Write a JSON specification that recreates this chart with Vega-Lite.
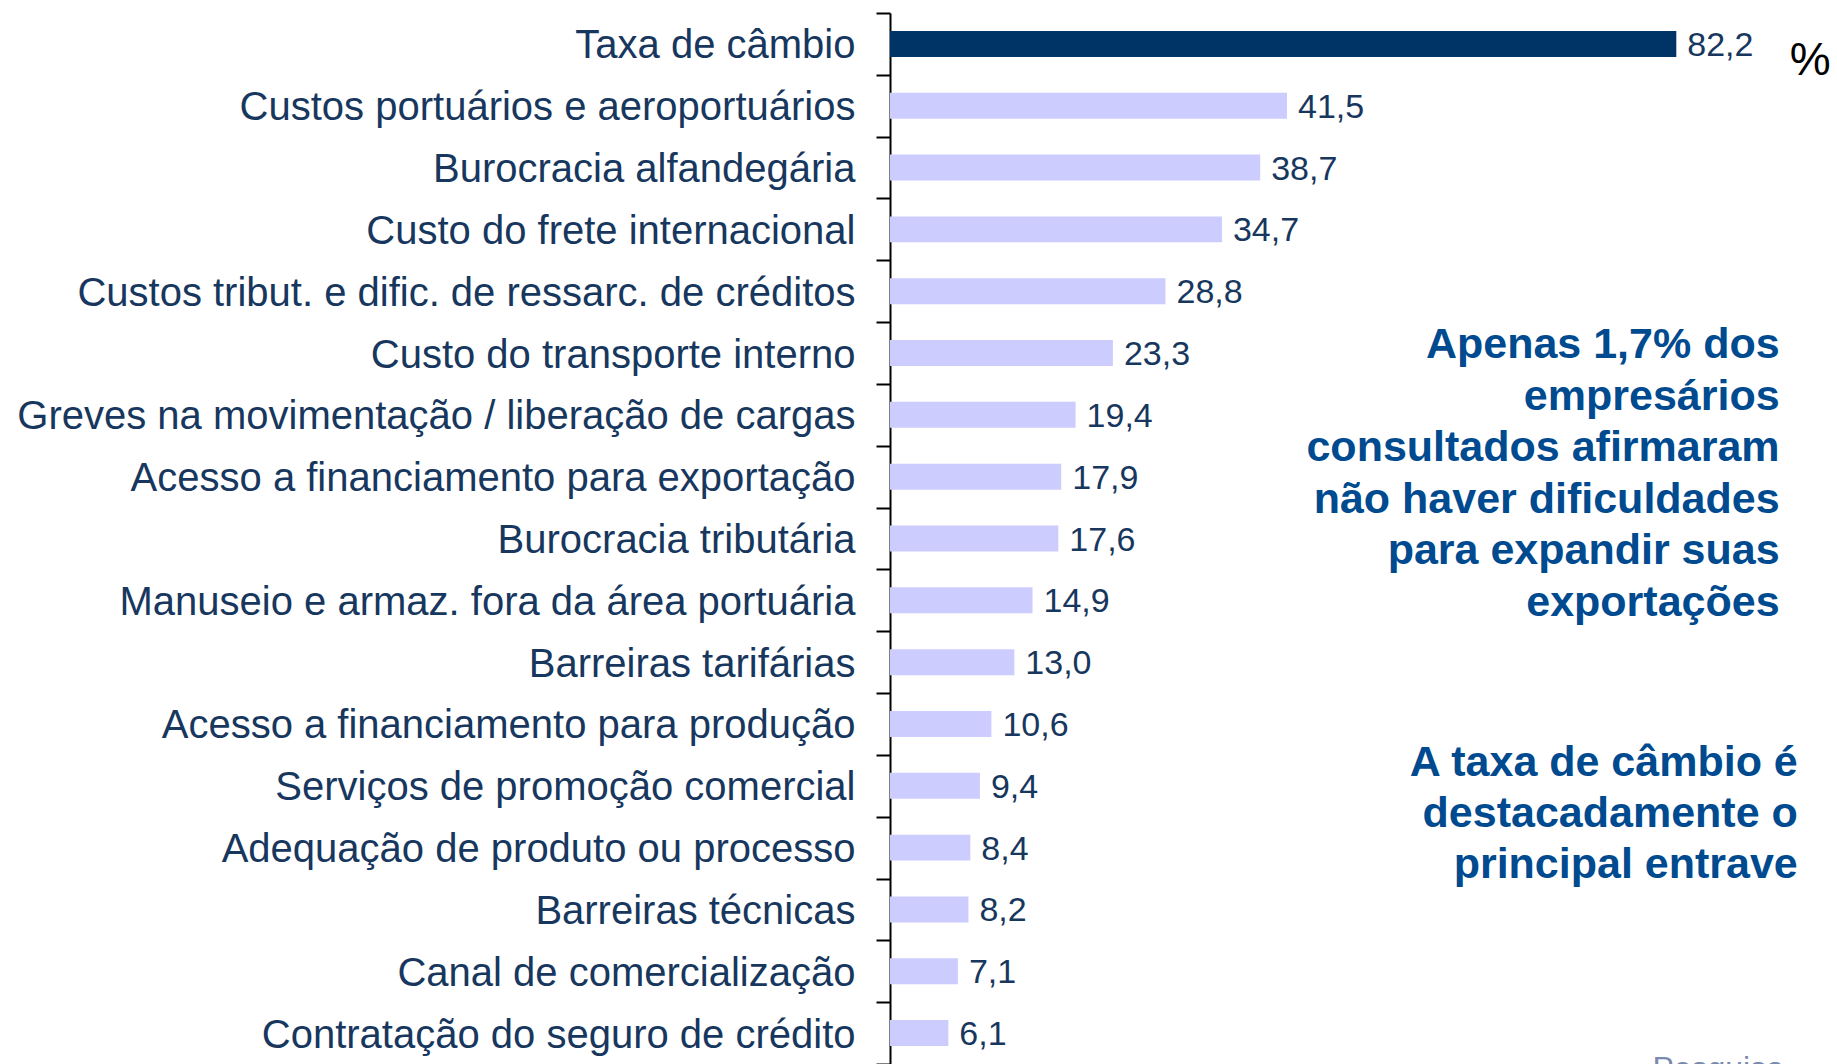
{
  "$schema": "https://vega.github.io/schema/vega-lite/v6.json",
  "autosize": {"type": "none"},
  "width": 947,
  "height": 1051,
  "padding": {"left": 890, "top": 13, "right": 0, "bottom": 0},
  "background": "white",
  "config": {"view": {"stroke": null}, "font": "Liberation Sans"},
  "datasets": {
    "bars": [
      {"category": "Taxa de câmbio", "value": 82.2, "label": "82,2"},
      {"category": "Custos portuários e aeroportuários", "value": 41.5, "label": "41,5"},
      {"category": "Burocracia alfandegária", "value": 38.7, "label": "38,7"},
      {"category": "Custo do frete internacional", "value": 34.7, "label": "34,7"},
      {"category": "Custos tribut. e dific. de ressarc. de créditos", "value": 28.8, "label": "28,8"},
      {"category": "Custo do transporte interno", "value": 23.3, "label": "23,3"},
      {"category": "Greves na movimentação / liberação de cargas", "value": 19.4, "label": "19,4"},
      {"category": "Acesso a financiamento para exportação", "value": 17.9, "label": "17,9"},
      {"category": "Burocracia tributária", "value": 17.6, "label": "17,6"},
      {"category": "Manuseio e armaz. fora da área portuária", "value": 14.9, "label": "14,9"},
      {"category": "Barreiras tarifárias", "value": 13.0, "label": "13,0"},
      {"category": "Acesso a financiamento para produção", "value": 10.6, "label": "10,6"},
      {"category": "Serviços de promoção comercial", "value": 9.4, "label": "9,4"},
      {"category": "Adequação de produto ou processo", "value": 8.4, "label": "8,4"},
      {"category": "Barreiras técnicas", "value": 8.2, "label": "8,2"},
      {"category": "Canal de comercialização", "value": 7.1, "label": "7,1"},
      {"category": "Contratação do seguro de crédito", "value": 6.1, "label": "6,1"}
    ]
  },
  "encoding": {
    "y": {
      "field": "category",
      "type": "nominal",
      "sort": null,
      "scale": {"paddingInner": 0, "paddingOuter": 0},
      "axis": {
        "title": null,
        "domainColor": "black",
        "domainWidth": 2,
        "tickColor": "black",
        "tickWidth": 2,
        "tickSize": 14,
        "tickBand": "extent",
        "labelPadding": 21,
        "labelOffset": 2,
        "labelFont": "Liberation Sans",
        "labelFontSize": 40,
        "labelColor": "#17375E",
        "labelLimit": 0
      }
    }
  },
  "layer": [
    {
      "data": {"name": "bars"},
      "mark": {"type": "bar", "height": {"band": 0.42}},
      "encoding": {
        "x": {"field": "value", "type": "quantitative", "scale": {"domain": [0, 99], "nice": false}, "axis": null},
        "color": {"condition": {"test": "datum.value > 80", "value": "#003366"}, "value": "#CCCCFF"}
      }
    },
    {
      "data": {"name": "bars"},
      "mark": {"type": "text", "align": "left", "baseline": "middle", "dx": 11, "dy": 2, "fontSize": 34, "color": "#17375E", "font": "Liberation Sans"},
      "encoding": {
        "x": {"field": "value", "type": "quantitative"},
        "text": {"field": "label"}
      }
    },
    {
      "data": {"values": [{"category": "Taxa de câmbio", "pos": 96.2, "note": "%"}]},
      "mark": {"type": "text", "align": "center", "baseline": "middle", "dy": 17, "fontSize": 46, "color": "black", "font": "Liberation Sans"},
      "encoding": {
        "x": {"field": "pos", "type": "quantitative"},
        "text": {"field": "note"}
      }
    },
    {
      "data": {"values": [{"category": "Custo do transporte interno", "pos": 93.0, "note": ["Apenas 1,7% dos", "empresários", "consultados afirmaram", "não haver dificuldades", "para expandir suas", "exportações"]}]},
      "mark": {"type": "text", "align": "right", "baseline": "middle", "dy": -8, "fontSize": 43, "fontWeight": "bold", "lineHeight": 51.5, "color": "#004A8F", "font": "Liberation Sans"},
      "encoding": {
        "x": {"field": "pos", "type": "quantitative"},
        "text": {"field": "note"}
      }
    },
    {
      "data": {"values": [{"category": "Serviços de promoção comercial", "pos": 94.9, "note": ["A taxa de câmbio é", "destacadamente o", "principal entrave"]}]},
      "mark": {"type": "text", "align": "right", "baseline": "middle", "dy": -23, "fontSize": 43, "fontWeight": "bold", "lineHeight": 51, "color": "#004A8F", "font": "Liberation Sans"},
      "encoding": {
        "x": {"field": "pos", "type": "quantitative"},
        "text": {"field": "note"}
      }
    },
    {
      "data": {"values": [{"category": "Contratação do seguro de crédito", "pos": 79.7, "note": "Pesquisa"}]},
      "mark": {"type": "text", "align": "left", "baseline": "top", "dy": 21, "fontSize": 32, "color": "#7A8AAE", "font": "Liberation Sans"},
      "encoding": {
        "x": {"field": "pos", "type": "quantitative"},
        "text": {"field": "note"}
      }
    }
  ]
}
